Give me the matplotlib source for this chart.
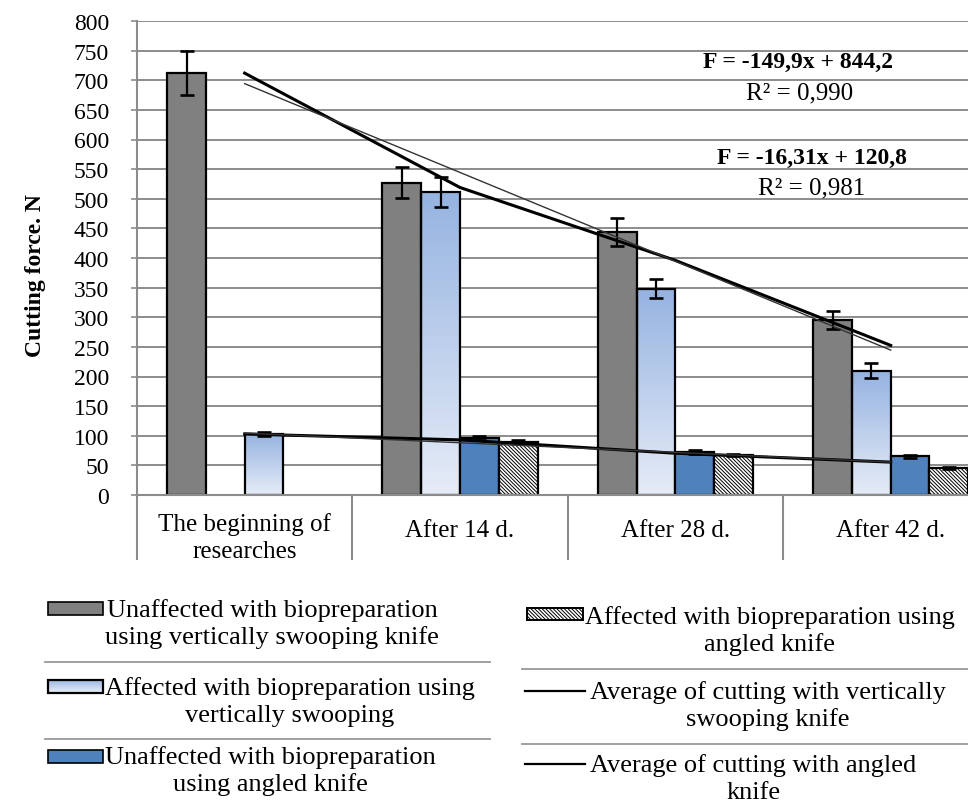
import numpy as np
import matplotlib
matplotlib.use("Agg")
import matplotlib.pyplot as plt
from matplotlib.colors import LinearSegmentedColormap
from matplotlib.patches import Rectangle
import matplotlib.transforms as mtransforms

plt.rcParams['font.family'] = ['Liberation Serif', 'DejaVu Serif']

# ---------------- data ----------------
categories = ["The beginning of\nresearches", "After 14 d.", "After 28 d.", "After 42 d."]

unaff_vert = [712, 527, 444, 295]
unaff_vert_err = [37, 26, 23, 15]
aff_vert = [np.nan, 511, 348, 210]
aff_vert_err = [np.nan, 25, 16, 12]
unaff_angled = [103, 96, 73, 65]
unaff_angled_err = [3, 3, 3, 3]
unaff_angled_gradient = [True, False, False, False]
aff_angled = [np.nan, 90, 68, 46]
aff_angled_err = [np.nan, 2, 2, 2]

trend_vert = (-149.9, 844.2)
trend_vert_r2 = "0,990"
trend_angled = (-16.31, 120.8)
trend_angled_r2 = "0,981"

yticks = list(range(0, 801, 50))

legend_left = [
    "Unaffected with biopreparation\nusing vertically swooping knife",
    "Affected with biopreparation using\nvertically swooping",
    "Unaffected with biopreparation\nusing angled knife",
]
legend_right = [
    "Affected with biopreparation using\nangled knife",
    "Average of cutting with vertically\nswooping knife",
    "Average of cutting with angled\nknife",
]

# ---------------- styles ----------------
GRAY = '#808080'
BLUE = '#4F81BD'
GRAD_TOP = '#95B3E1'
GRAD_BOT = '#E6ECF7'
GRID = '#8C8C8C'
HATCH = '\\' * 9
grad_cmap = LinearSegmentedColormap.from_list('g', [GRAD_BOT, GRAD_TOP])
grad_arr = np.linspace(0, 1, 256).reshape(-1, 1)
plt.rcParams['hatch.linewidth'] = 0.7

W, H = 968, 804
fig = plt.figure(figsize=(W / 100, H / 100), dpi=100)
ax = fig.add_axes([137 / W, 1 - 496 / H, (W - 137) / W, 474 / H])

x = np.arange(len(categories))
w = 0.18
edge_lw = 1.6


def gradient_fill(axis, rect):
    h = rect.get_height()
    if not np.isfinite(h):
        return
    x0, y0, ww = rect.get_x(), rect.get_y(), rect.get_width()
    im = axis.imshow(grad_arr, extent=[x0, x0 + ww, y0, y0 + h], origin='lower',
                     cmap=grad_cmap, aspect='auto', zorder=1.9, interpolation='bilinear')
    im.set_clip_path(rect)


b1 = ax.bar(x - 1.5 * w, unaff_vert, w, color=GRAY, edgecolor='black', lw=edge_lw, zorder=2)
b2 = ax.bar(x - 0.5 * w, aff_vert, w, facecolor='none', edgecolor='black', lw=edge_lw, zorder=2)
for r in b2:
    gradient_fill(ax, r)
fc3 = ['none' if g else BLUE for g in unaff_angled_gradient]
b3 = ax.bar(x + 0.5 * w, unaff_angled, w, color=fc3, edgecolor='black', lw=edge_lw, zorder=2)
for r, g in zip(b3, unaff_angled_gradient):
    if g:
        gradient_fill(ax, r)
b4 = ax.bar(x + 1.5 * w, aff_angled, w, color='white', edgecolor='black', lw=edge_lw,
            hatch=HATCH, zorder=2)

for off, vals, errs in [(-1.5, unaff_vert, unaff_vert_err), (-0.5, aff_vert, aff_vert_err),
                        (0.5, unaff_angled, unaff_angled_err), (1.5, aff_angled, aff_angled_err)]:
    ax.errorbar(x + off * w, vals, yerr=errs, fmt='none', ecolor='black', elinewidth=1.6,
                capsize=4.8, capthick=1.9, zorder=3)

# average lines
avg_vert = np.nanmean(np.array([unaff_vert, aff_vert], dtype=float), axis=0)
avg_angled = np.nanmean(np.array([unaff_angled, aff_angled], dtype=float), axis=0)
ax.plot(x, avg_vert, color='black', lw=2.2, zorder=4)
ax.plot(x, avg_angled, color='black', lw=2.2, zorder=4)
# linear trend lines (Excel x = 1..4)
xe = x + 1
ax.plot(x, trend_vert[0] * xe + trend_vert[1], color='#333333', lw=1.0, zorder=4)
ax.plot(x, trend_angled[0] * xe + trend_angled[1], color='#333333', lw=1.0, zorder=4)

ax.set_xlim(-0.5, -0.5 + (W - 137) / 215.33)
ax.set_ylim(0, 800)
ax.set_yticks(yticks)
ax.set_yticklabels([str(t) for t in yticks], fontsize=17)
ax.tick_params(axis='y', direction='out', length=4, width=1.2, color=GRID, pad=16)
ax.set_xticks([])
ax.yaxis.grid(True, color=GRID, lw=1.4)
ax.set_axisbelow(True)
for s in ['top', 'right']:
    ax.spines[s].set_visible(False)
for s in ['left', 'bottom']:
    ax.spines[s].set_color(GRID)
    ax.spines[s].set_linewidth(1.5)

# category boundary lines below axis and labels
trans = mtransforms.blended_transform_factory(ax.transData, ax.transAxes)
bot = -(560 - 496) / 474
for b in np.arange(len(categories)) - 0.5:
    ax.plot([b, b], [0, bot], transform=trans, color=GRID, lw=1.5, clip_on=False)
for xi, lab in zip(x, categories):
    yy = -(538 - 496) / 474 if '\n' in lab else -(531 - 496) / 474
    ax.text(xi, yy, lab, transform=trans, ha='center', va='center', fontsize=18,
            linespacing=1.3, clip_on=False)

# ---------------- overlay in pixel coordinates ----------------
lax = fig.add_axes([0, 0, 1, 1], zorder=5)
lax.set_xlim(0, W)
lax.set_ylim(H, 0)
lax.axis('off')
lax.patch.set_alpha(0)

lax.text(36, 276, "Cutting force. N", rotation=90, ha='center', va='center',
         fontsize=17, fontweight='bold')


def fmt(v, nd):
    return ("%.*f" % (nd, v)).replace('.', ',')


lax.text(798, 62, "F = %sx + %s" % (fmt(trend_vert[0], 1), fmt(trend_vert[1], 1)),
         ha='center', va='center', fontsize=17, fontweight='bold')
lax.text(800, 93, "R² = " + trend_vert_r2, ha='center', va='center', fontsize=18)
lax.text(812, 158, "F = %sx + %s" % (fmt(trend_angled[0], 2), fmt(trend_angled[1], 1)),
         ha='center', va='center', fontsize=17, fontweight='bold')
lax.text(812, 188, "R² = " + trend_angled_r2, ha='center', va='center', fontsize=18)

# legend
LFS = 19
left_mid = [624, 702, 771]
right_mid = [631, 706, 779]
left_patch_y = [609, 687, 757]
right_y = [615, 692, 765]
for i, (lab, ym, py) in enumerate(zip(legend_left, left_mid, left_patch_y)):
    if i == 0:
        lax.add_patch(Rectangle((48, py - 6.5), 55, 13, facecolor=GRAY, edgecolor='black', lw=1.2))
    elif i == 1:
        lax.imshow(grad_arr, extent=[48, 103, py + 6.5, py - 6.5], origin='lower',
                   cmap=grad_cmap, aspect='auto', zorder=1)
        lax.add_patch(Rectangle((48, py - 6.5), 55, 13, facecolor='none', edgecolor='black', lw=1.6, zorder=2))
    else:
        lax.add_patch(Rectangle((48, py - 6.5), 55, 13, facecolor=BLUE, edgecolor='black', lw=1.2))
    lax.text(105, ym, lab, ha='left', va='center', multialignment='center', fontsize=LFS,
             linespacing=1.25)
for i, (lab, ym, py) in enumerate(zip(legend_right, right_mid, right_y)):
    if i == 0:
        lax.add_patch(Rectangle((527, py - 6), 56, 12, facecolor='white', edgecolor='black',
                                lw=1.4, hatch=HATCH))
        tx = 585
    else:
        lax.plot([525, 585], [py, py], color='black', lw=1.6)
        tx = 590
    lax.text(tx, ym, lab, ha='left', va='center', multialignment='center', fontsize=LFS,
             linespacing=1.25)
for y in [663, 740]:
    lax.plot([45, 490], [y, y], color='#999999', lw=1.3)
for y in [670, 745]:
    lax.plot([522, 968], [y, y], color='#999999', lw=1.3)
lax.set_xlim(0, W)
lax.set_ylim(H, 0)

fig.savefig('out.png', dpi=100)
